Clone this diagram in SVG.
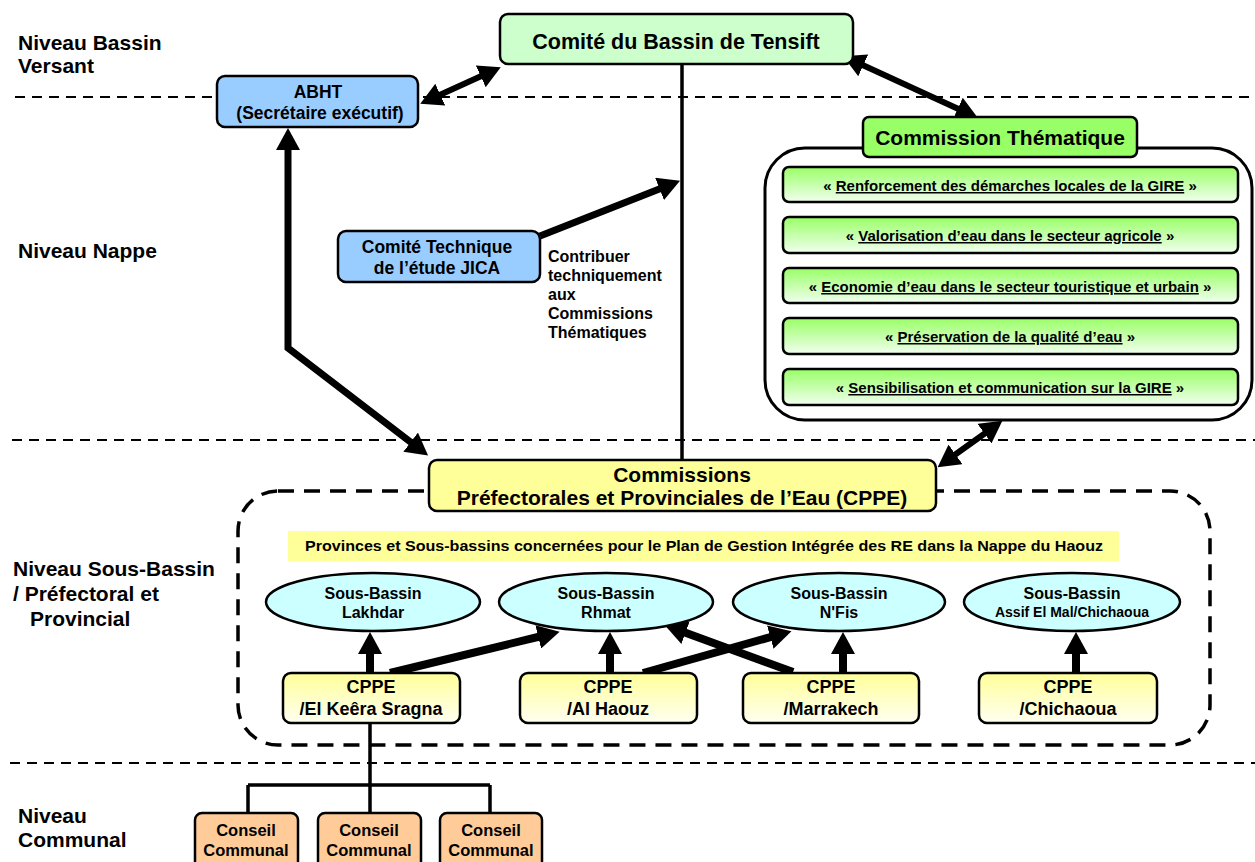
<svg xmlns="http://www.w3.org/2000/svg" width="1255" height="862" viewBox="0 0 1255 862">
<defs>
<style>
text{font-family:"Liberation Sans",Arial,sans-serif;font-weight:bold;fill:#000}
.lvl{font-size:21px}
.sep{stroke:#000;stroke-width:2;stroke-dasharray:10 7;fill:none}
.box{stroke:#000;stroke-width:2.5}
.ln{stroke:#000;fill:none}
.th{font-size:15px;text-anchor:middle}
.c{text-anchor:middle}
</style>
<marker id="ah" viewBox="0 0 22 24" refX="8" refY="12" markerWidth="22" markerHeight="24" markerUnits="userSpaceOnUse" orient="auto-start-reverse"><path d="M0,0 L22,12 L0,24 z" fill="#000"/></marker>
<linearGradient id="gg" x1="0" y1="0" x2="0" y2="1"><stop offset="0" stop-color="#99ff66"/><stop offset="1" stop-color="#f2fff0"/></linearGradient>
<linearGradient id="yg" x1="0" y1="0" x2="0" y2="1"><stop offset="0" stop-color="#ffff99"/><stop offset="1" stop-color="#fffff2"/></linearGradient>
</defs>
<rect width="1255" height="862" fill="#fff"/>

<g id="levels">
<text class="lvl" x="18" y="50">Niveau Bassin</text>
<text class="lvl" x="18" y="73">Versant</text>
<text class="lvl" x="18" y="258">Niveau Nappe</text>
<text class="lvl" x="13" y="576">Niveau Sous-Bassin</text>
<text class="lvl" x="13" y="601">/ Préfectoral et</text>
<text class="lvl" x="30" y="626">Provincial</text>
<text class="lvl" x="18" y="823">Niveau</text>
<text class="lvl" x="18" y="847">Communal</text>
<line class="sep" x1="15" y1="97" x2="1255" y2="97"/>
<line class="sep" x1="12" y1="440" x2="1255" y2="440"/>
<line class="sep" x1="10" y1="763" x2="1255" y2="763"/>
</g>

<g id="containers">
<rect x="765" y="148" width="487" height="272" rx="40" fill="#fff" stroke="#000" stroke-width="3"/>
<rect x="238" y="491" width="972" height="254" rx="40" fill="none" stroke="#000" stroke-width="3.5" stroke-dasharray="16 10"/>
</g>

<g id="connectors">
<line class="ln" x1="682" y1="64" x2="682" y2="460" stroke-width="3.5"/>
<line class="ln" x1="433" y1="98" x2="488" y2="73" stroke-width="6" marker-start="url(#ah)" marker-end="url(#ah)"/>
<line class="ln" x1="856" y1="62" x2="965" y2="112" stroke-width="6" marker-start="url(#ah)" marker-end="url(#ah)"/>
<line class="ln" x1="991" y1="429" x2="949" y2="459" stroke-width="6" marker-start="url(#ah)" marker-end="url(#ah)"/>
<line class="ln" x1="540" y1="236" x2="667" y2="186" stroke-width="7" marker-end="url(#ah)"/>
<polyline class="ln" points="288,142 288,348 417,447" stroke-width="7" marker-start="url(#ah)" marker-end="url(#ah)"/>
<line class="ln" x1="370" y1="673" x2="370" y2="646" stroke-width="8" marker-end="url(#ah)"/>
<line class="ln" x1="610" y1="673" x2="610" y2="646" stroke-width="8" marker-end="url(#ah)"/>
<line class="ln" x1="843" y1="673" x2="843" y2="646" stroke-width="8" marker-end="url(#ah)"/>
<line class="ln" x1="1076" y1="673" x2="1076" y2="646" stroke-width="8" marker-end="url(#ah)"/>
<line class="ln" x1="390" y1="673" x2="546" y2="635" stroke-width="8" marker-end="url(#ah)"/>
<line class="ln" x1="643" y1="673" x2="778" y2="635" stroke-width="8" marker-end="url(#ah)"/>
<line class="ln" x1="793" y1="672" x2="678" y2="630" stroke-width="8" marker-end="url(#ah)"/>
<path class="ln" d="M370,723 V785 M248,785 H490 M248,785 V813 M370,785 V813 M490,785 V813" stroke-width="3.5"/>
</g>

<g id="comite-bassin">
<rect class="box" x="500" y="14" width="353" height="50" rx="8" fill="#ccffcc"/>
<text class="c" x="676" y="49" font-size="21.5">Comité du Bassin de Tensift</text>
</g>
<g id="abht">
<rect class="box" x="217" y="76" width="201" height="51" rx="8" fill="#99ccff"/>
<text class="c" x="318" y="98" font-size="17.5">ABHT</text>
<text class="c" x="320" y="119" font-size="17.5">(Secrétaire exécutif)</text>
</g>
<g id="commission-thematique">
<rect class="box" x="863" y="117" width="274" height="40" rx="6" fill="#99ff66"/>
<text class="c" x="1000" y="145" font-size="21">Commission Thématique</text>
</g>
<g id="theme1">
<rect class="box" x="783" y="167" width="455" height="35" rx="6" fill="url(#gg)"/>
<text class="th" x="1010" y="191">« <tspan text-decoration="underline">Renforcement des démarches locales de la GIRE</tspan> »</text>
</g>
<g id="theme2">
<rect class="box" x="783" y="217" width="455" height="36" rx="6" fill="url(#gg)"/>
<text class="th" x="1010" y="241">« <tspan text-decoration="underline">Valorisation d’eau dans le secteur agricole</tspan> »</text>
</g>
<g id="theme3">
<rect class="box" x="783" y="268" width="455" height="35" rx="6" fill="url(#gg)"/>
<text class="th" x="1010" y="292">« <tspan text-decoration="underline">Economie d’eau dans le secteur touristique et urbain</tspan> »</text>
</g>
<g id="theme4">
<rect class="box" x="783" y="318" width="455" height="36" rx="6" fill="url(#gg)"/>
<text class="th" x="1010" y="342">« <tspan text-decoration="underline">Préservation de la qualité d’eau</tspan> »</text>
</g>
<g id="theme5">
<rect class="box" x="783" y="369" width="455" height="36" rx="6" fill="url(#gg)"/>
<text class="th" x="1010" y="393">« <tspan text-decoration="underline">Sensibilisation et communication sur la GIRE</tspan> »</text>
</g>

<g id="jica">
<rect class="box" x="338" y="231" width="202" height="51" rx="8" fill="#99ccff"/>
<text class="c" x="437" y="253" font-size="17.5">Comité Technique</text>
<text class="c" x="437" y="274" font-size="17.5">de l’étude JICA</text>
</g>
<g id="jica-label" font-size="16">
<text x="548" y="262">Contribuer</text>
<text x="548" y="281">techniquement</text>
<text x="548" y="300">aux</text>
<text x="548" y="319">Commissions</text>
<text x="548" y="338">Thématiques</text>
</g>

<g id="cppe">
<rect class="box" x="429" y="460" width="507" height="51" rx="8" fill="#ffff99"/>
<text class="c" x="682" y="482" font-size="21">Commissions</text>
<text class="c" x="682" y="505" font-size="21">Préfectorales et Provinciales de l’Eau (CPPE)</text>
</g>
<g id="banner">
<rect x="288" y="531" width="831" height="30" fill="#ffff99"/>
<text x="305" y="551" font-size="15.5" textLength="798" lengthAdjust="spacingAndGlyphs">Provinces et Sous-bassins concernées pour le Plan de Gestion Intégrée des RE dans la Nappe du Haouz</text>
</g>

<g id="sb-lakhdar">
<ellipse cx="373" cy="602" rx="107" ry="29" fill="#ccffff" stroke="#000" stroke-width="2.5"/>
<text class="c" x="373" y="599" font-size="16">Sous-Bassin</text>
<text class="c" x="373" y="618" font-size="16">Lakhdar</text>
</g>
<g id="sb-rhmat">
<ellipse cx="606" cy="602" rx="107" ry="29" fill="#ccffff" stroke="#000" stroke-width="2.5"/>
<text class="c" x="606" y="599" font-size="16">Sous-Bassin</text>
<text class="c" x="606" y="618" font-size="16">Rhmat</text>
</g>
<g id="sb-nfis">
<ellipse cx="839" cy="602" rx="106" ry="29" fill="#ccffff" stroke="#000" stroke-width="2.5"/>
<text class="c" x="839" y="599" font-size="16">Sous-Bassin</text>
<text class="c" x="839" y="618" font-size="16">N'Fis</text>
</g>
<g id="sb-assif">
<ellipse cx="1072" cy="602" rx="108" ry="29" fill="#ccffff" stroke="#000" stroke-width="2.5"/>
<text class="c" x="1072" y="599" font-size="16">Sous-Bassin</text>
<text class="c" x="1072" y="617" font-size="14">Assif El Mal/Chichaoua</text>
</g>

<g id="cppe-keera">
<rect class="box" x="283" y="673" width="177" height="50" rx="8" fill="url(#yg)"/>
<text class="c" x="371" y="693" font-size="18">CPPE</text>
<text class="c" x="371" y="715" font-size="18">/El Keêra Sragna</text>
</g>
<g id="cppe-haouz">
<rect class="box" x="520" y="673" width="177" height="50" rx="8" fill="url(#yg)"/>
<text class="c" x="608" y="693" font-size="18">CPPE</text>
<text class="c" x="608" y="715" font-size="18">/Al Haouz</text>
</g>
<g id="cppe-marrakech">
<rect class="box" x="743" y="673" width="176" height="50" rx="8" fill="url(#yg)"/>
<text class="c" x="831" y="693" font-size="18">CPPE</text>
<text class="c" x="831" y="715" font-size="18">/Marrakech</text>
</g>
<g id="cppe-chichaoua">
<rect class="box" x="979" y="673" width="178" height="50" rx="8" fill="url(#yg)"/>
<text class="c" x="1068" y="693" font-size="18">CPPE</text>
<text class="c" x="1068" y="715" font-size="18">/Chichaoua</text>
</g>

<g id="conseil1">
<rect class="box" x="195" y="813" width="103" height="60" rx="7" fill="#ffcc99"/>
<text class="c" x="246" y="836" font-size="16.5">Conseil</text>
<text class="c" x="246" y="856" font-size="16.5">Communal</text>
</g>
<g id="conseil2">
<rect class="box" x="318" y="813" width="103" height="60" rx="7" fill="#ffcc99"/>
<text class="c" x="369" y="836" font-size="16.5">Conseil</text>
<text class="c" x="369" y="856" font-size="16.5">Communal</text>
</g>
<g id="conseil3">
<rect class="box" x="440" y="813" width="102" height="60" rx="7" fill="#ffcc99"/>
<text class="c" x="491" y="836" font-size="16.5">Conseil</text>
<text class="c" x="491" y="856" font-size="16.5">Communal</text>
</g>
</svg>
